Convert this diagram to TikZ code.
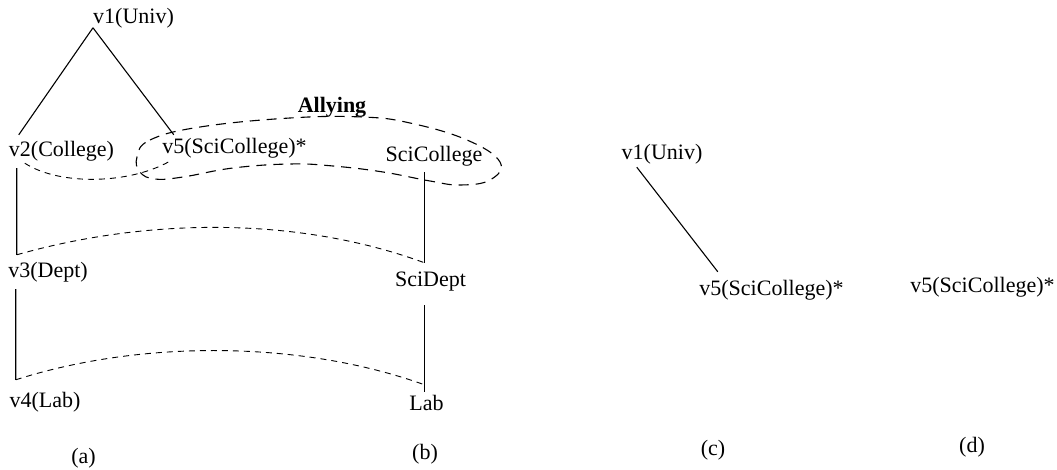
\documentclass[tikz,border=0pt]{standalone}
\usepackage{fontspec}
\setmainfont{Liberation Serif}
\begin{document}
\begin{tikzpicture}[x=1pt,y=-1pt,
  lbl/.style={font=\fontsize{22}{26}\selectfont, inner sep=0pt, text height=15.3pt, text depth=3.9pt},
  solidline/.style={line width=1.1pt, black},
  dashline/.style={line width=0.9pt, black, dash pattern=on 6pt off 5pt},
  allyline/.style={line width=1.1pt, black, dash pattern=on 10pt off 7pt}]
\useasboundingbox (0,0) rectangle (1057,470);
% (a)
\node[lbl] (v1a) at (133.5,18) {v1(Univ)};
\node[lbl] (v2) at (61.5,151) {v2(College)};
\node[lbl] (v5a) at (234.5,148) {v5(SciCollege)*};
\node[lbl] (v3) at (48,271.5) {v3(Dept)};
\node[lbl] (v4) at (45,401.5) {v4(Lab)};
% (b)
\node[lbl] (scicol) at (434,155.5) {SciCollege};
\node[lbl] (scidept) at (430.5,281) {SciDept};
\node[lbl] (lab) at (426.5,404.3) {Lab};
\node[lbl, font=\fontsize{22}{26}\selectfont\bfseries] (ally) at (332,107) {Allying};
% (c), (d)
\node[lbl] (v1c) at (662,153.5) {v1(Univ)};
\node[lbl] (v5c) at (771.5,290) {v5(SciCollege)*};
\node[lbl] (v5d) at (982.5,286.5) {v5(SciCollege)*};
% captions
\node[lbl] (capa) at (83.5,457.5) {(a)};
\node[lbl] (capb) at (425,453.5) {(b)};
\node[lbl] (capc) at (713,450) {(c)};
\node[lbl] (capd) at (972,446.5) {(d)};
% tree edges (a)
\draw[solidline] (v1a.south west) -- ([xshift=10pt,yshift=6.4pt]v2.north west);
\draw[solidline] (v1a.south west) -- ([xshift=11.6pt,yshift=3.4pt]v5a.north west);
\draw[solidline] ([xshift=8pt,yshift=-7.4pt]v2.south west) -- ([xshift=8.7pt,yshift=6.9pt]v3.north west);
\draw[solidline] ([xshift=7.7pt,yshift=-7.9pt]v3.south west) -- ([xshift=6.4pt,yshift=11.9pt]v4.north west);
% edges (b)
\draw[solidline] ([xshift=-9.5pt,yshift=-6.9pt]scicol.south) -- ([xshift=-6pt,yshift=8.4pt]scidept.north);
\draw[solidline] ([xshift=-6pt,yshift=-14.4pt]scidept.south) -- ([xshift=-2pt,yshift=2.7pt]lab.north);
% correspondences
\draw[dashline] ([xshift=16pt,yshift=-2.4pt]v2.south west) .. controls (60,186) and (130,184) .. ([xshift=7.6pt,yshift=-3.4pt]v5a.south west);
\draw[dashline] ([xshift=8.7pt,yshift=6.9pt]v3.north west) .. controls (150,217) and (300,217) .. ([xshift=-6pt,yshift=8.4pt]scidept.north);
\draw[dashline] ([xshift=6.4pt,yshift=11.9pt]v4.north west) .. controls (140,340) and (300,340) .. ([xshift=-2pt,yshift=9.7pt]lab.north);
% allying region
\draw[allyline] plot[smooth cycle, tension=0.7] coordinates {(137,157) (150,140) (200,127) (290,118) (362,117) (410,123) (467,140) (500,162) (490,180) (460,185) (430,181) (383,172) (333,166) (290,164) (233,168) (183,177) (155,179) (140,172)};
% (c)
\draw[solidline] ([xshift=15.3pt,yshift=-3.9pt]v1c.south west) -- ([xshift=18.6pt,yshift=8.4pt]v5c.north west);
\end{tikzpicture}
\end{document}
